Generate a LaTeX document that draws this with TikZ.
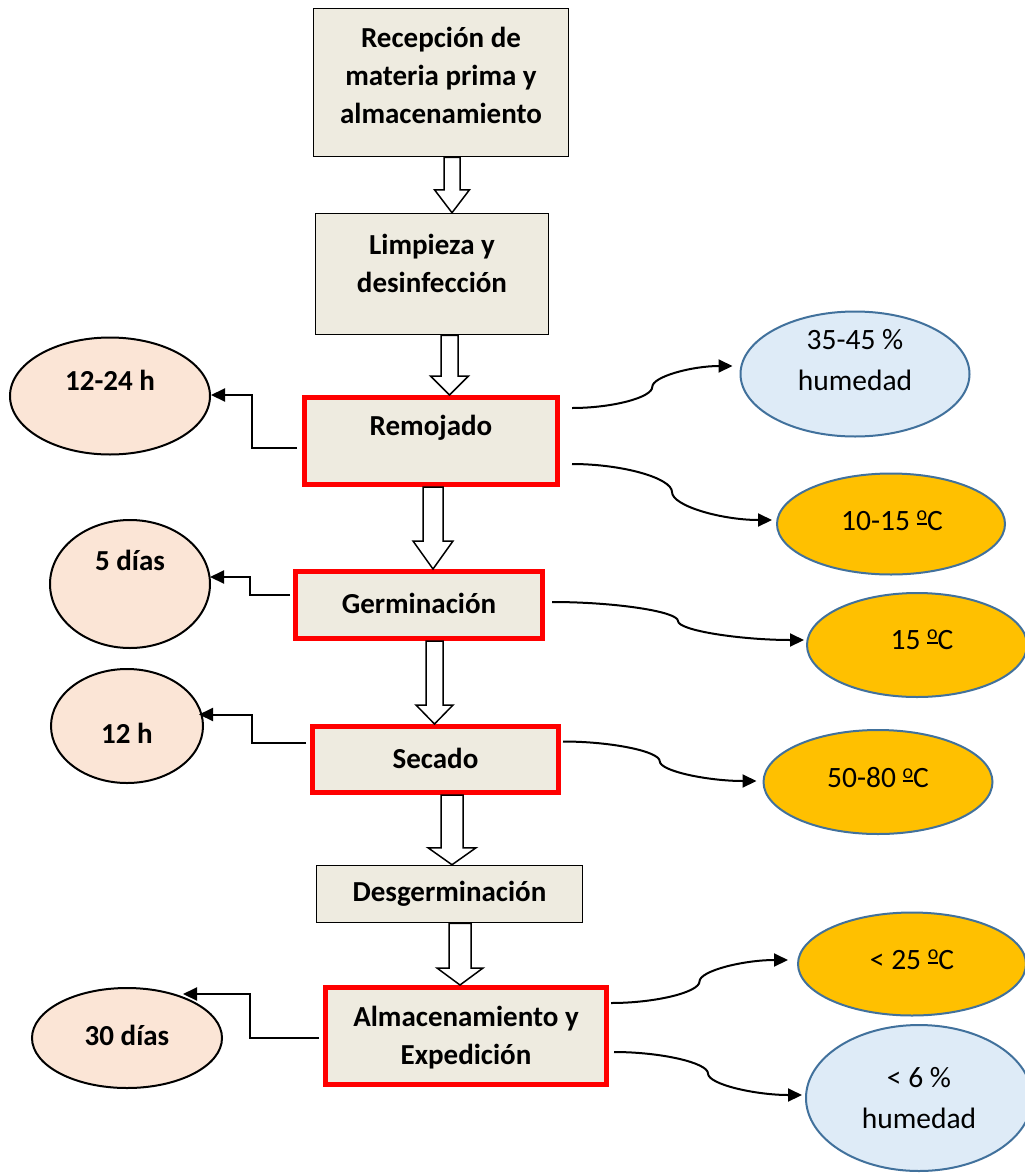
\documentclass[tikz,border=0pt]{standalone}
\usepackage{fontspec}
\setmainfont{Carlito}
\usetikzlibrary{arrows.meta,shapes.geometric,calc}
\definecolor{boxfill}{HTML}{EEEBE0}
\definecolor{peach}{HTML}{FBE5D6}
\definecolor{lblue}{HTML}{DEEBF7}
\definecolor{gold}{HTML}{FFC000}
\definecolor{eborder}{HTML}{41719C}
\definecolor{rred}{HTML}{FF0000}
% masculine ordinal with underline, as in Calibri
\newcommand\mordo{{\setbox0\hbox{\fontsize{20}{20}\selectfont o}%
  \raisebox{0.2em}{\vbox{\hbox{\copy0}\kern1.8pt\hrule height 1.7pt width \wd0}}}}
\tikzset{
  plainbox/.style={rectangle, draw=black, line width=1.5pt, fill=boxfill, inner sep=0pt},
  redbox/.style={rectangle, draw=rred, line width=5pt, fill=boxfill, inner sep=0pt},
  btext/.style={font=\fontsize{29}{38}\selectfont\bfseries, align=center, inner sep=0pt},
  rtext/.style={font=\fontsize{29.5}{41}\selectfont, align=center, inner sep=0pt},
  lell/.style={ellipse, draw=black, line width=2pt, fill=peach, inner sep=0pt},
  rell/.style={ellipse, draw=eborder, line width=2pt, inner sep=0pt},
  conn/.style={draw=black, line width=2pt, -{Triangle[length=14pt,width=13pt]}},
  blk/.style={draw=black, line width=1.5pt, fill=white, line join=miter}
}
% block arrow: #1 from node, #2 to node, #3 centre x, #4 shaft half width, #5 head half width, #6 head length
\newcommand\blockarr[6]{%
  \draw[blk] let \p1=(#1.south), \p2=(#2.north) in
    ({(#3-#4)*1pt},\y1) -- ({(#3+#4)*1pt},\y1) -- ({(#3+#4)*1pt},{\y2+#6*1pt})
    -- ({(#3+#5)*1pt},{\y2+#6*1pt}) -- ({#3*1pt},\y2) -- ({(#3-#5)*1pt},{\y2+#6*1pt})
    -- ({(#3-#4)*1pt},{\y2+#6*1pt}) -- cycle;}
% word style curved connector
\newcommand\wcurve[2]{%
  \draw[conn] let \p1=(#1), \p2=(#2), \n1={(\x1+\x2)/2}, \n2={(\y1+\y2)/2} in
    (\p1) .. controls ({(\x1+\n1*1pt)/2},\y1) and ({\n1*1pt},{\y1+(\y2-\y1)/4}) .. ({\n1*1pt},{\n2*1pt})
    .. controls ({\n1*1pt},{\y1+3*(\y2-\y1)/4}) and ({(\n1*1pt+\x2)/2},\y2) .. (\p2);}
\begin{document}
\begin{tikzpicture}[x=1pt,y=-1pt]
\useasboundingbox[fill=white] (0,0) rectangle (1025,1173);

% main boxes
\node[plainbox, minimum width=255, minimum height=148] (recep) at (441,82.5) {};
\node[btext] (recepT) at (441,75) {Recepción de\\materia prima y\\almacenamiento};
\node[plainbox, minimum width=233, minimum height=121] (limp) at (432,274) {};
\node[btext] (limpT) at (432,263) {Limpieza y\\desinfección};
\node[redbox, minimum width=253, minimum height=87] (remo) at (431,441) {};
\node[btext] (remoT) at (431,428) {Remojado};
\node[redbox, minimum width=247, minimum height=67] (germ) at (419,605) {};
\node[btext] (germT) at (419,603) {Germinación};
\node[redbox, minimum width=246, minimum height=66] (seca) at (435.5,759.5) {};
\node[btext] (secaT) at (435.5,758) {Secado};
\node[plainbox, minimum width=266, minimum height=57] (desg) at (449.5,894) {};
\node[btext] (desgT) at (449.5,894) {Desgerminación};
\node[redbox, minimum width=281, minimum height=97] (alma) at (466,1036) {};
\node[btext] (almaT) at (466,1038) {Almacenamiento y\\Expedición};

% left ellipses
\node[lell, minimum width=200, minimum height=117] (e1) at (110,396) {};
\node[btext] (e1T) at (110,380) {12-24 h};
\node[lell, minimum width=160, minimum height=128] (e2) at (130,584) {};
\node[btext] (e2T) at (130,560) {5 días};
\node[lell, minimum width=152, minimum height=114] (e3) at (127,726) {};
\node[btext] (e3T) at (127,733) {12 h};
\node[lell, minimum width=190, minimum height=100] (e4) at (127,1038) {};
\node[btext] (e4T) at (127,1035) {30 días};

% right ellipses
\node[rell, fill=lblue, minimum width=229, minimum height=125] (r1) at (855,374) {};
\node[rtext] (r1T) at (855,360) {35-45 \%\\humedad};
\node[rell, fill=gold, minimum width=228, minimum height=101] (r2) at (891,524) {};
\node[rtext] (r2T) at (892,521) {10-15 \mordo C};
\node[rell, fill=gold, minimum width=220, minimum height=104] (r3) at (917,645) {};
\node[rtext] (r3T) at (922,640) {15 \mordo C};
\node[rell, fill=gold, minimum width=229, minimum height=104] (r4) at (878,782) {};
\node[rtext] (r4T) at (878,778) {50-80 \mordo C};
\node[rell, fill=gold, minimum width=228, minimum height=103] (r5) at (912,964) {};
\node[rtext] (r5T) at (912,960) {< 25 \mordo C};
\node[rell, fill=lblue, minimum width=226, minimum height=146] (r6) at (919,1098) {};
\node[rtext] (r6T) at (919,1098) {< 6 \%\\humedad};

% block arrows
\blockarr{recep}{limp}{452}{8}{17.5}{23}
\blockarr{limp}{remo}{449.5}{8.5}{19}{19}
\blockarr{remo}{germ}{433}{10}{20}{28}
\blockarr{germ}{seca}{434.5}{8.5}{18.5}{19}
\blockarr{seca}{desg}{452}{11}{24}{17}
\blockarr{desg}{alma}{460}{11}{23}{17}

% left elbow connectors
\draw[conn] ($(remo.west)+(-5,7)$) -| ++(-45,-53) -- ($(e1.east)+(0,-1)$);
\draw[conn] ($(germ.west)+(-3,-10)$) -| ++(-40,-18) -- ($(e2.east)+(-1,-7)$);
\draw[conn] ($(seca.west)+(-4,-17)$) -| ++(-54,-28) -- ($(e3.east)+(-5,-11.5)$);
\draw[conn] ($(alma.west)+(-4,2)$) -| ++(-69,-44) -- ($(e4.center)+(56,-44)$);

% right curved connectors
\wcurve{$(remo.east)+(12,-33)$}{$(r1.west)+(-7,-8)$}
\wcurve{$(remo.east)+(12,23)$}{$(r2.west)+(-4,-4)$}
\wcurve{$(germ.east)+(7,-3)$}{$(r3.west)+(-2,-5)$}
\wcurve{$(seca.east)+(2,-18)$}{$(r4.west)+(-6,-1)$}
\wcurve{$(alma.east)+(2,-33)$}{$(r5.west)+(-9,-4)$}
\wcurve{$(alma.east)+(5,16)$}{$(r6.west)+(-3,-3)$}
\end{tikzpicture}
\end{document}
